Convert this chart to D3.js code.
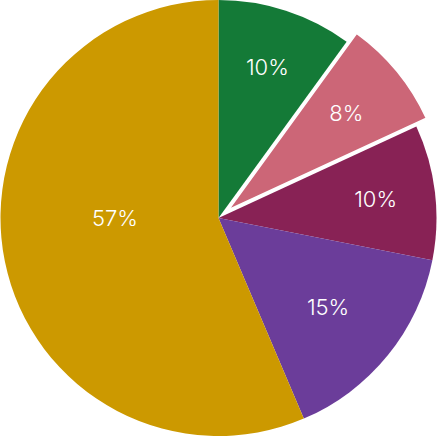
<!DOCTYPE html>
<html>
<head>
<meta charset="utf-8">
<script src="https://cdn.jsdelivr.net/npm/d3@7"></script>
<style>
    body { margin: 0; background: #ffffff; }
    svg { display: block; }
</style>
</head>
<body>
<svg id="lienzo" width="437" height="436"></svg>
<script>
// Datos del grafico
const categorias = ["Verde", "Rosa", "Vino", "Morado", "Dorado"];
const valores = [10, 8.1, 10, 15.5, 56.4];
const etiquetas = ["10%", "8%", "10%", "15%", "57%"];
const colores = ["#147a37", "#cc6677", "#882255", "#6b3d9a", "#cc9900"];

const radio = 218;
const cx = 218.5;
const cy = 218;

const indiceSeparado = 1;   // la porcion rosa sale un poco hacia fuera
const separacion = 13;

const svg = d3.select('#lienzo');

const pie = d3.pie()
    .sort(null)
    .value((d, i) => valores[i]);

const arcos = pie(categorias);

const arco = d3.arc()
    .innerRadius(0)
    .outerRadius(radio);

// desplazamiento de una porcion a lo largo de su angulo medio
function desplazamiento(d, i) {
    if (i !== indiceSeparado) return [0, 0];
    const medio = (d.startAngle + d.endAngle) / 2;
    return [separacion * Math.sin(medio), -separacion * Math.cos(medio)];
}

const grupo = svg.append('g')
    .attr('transform', `translate(${cx},${cy})`);

grupo.selectAll('path')
    .data(arcos)
    .enter()
    .append('path')
    .attr('d', arco)
    .attr('fill', (d, i) => colores[i])
    .attr('stroke', (d, i) => i === indiceSeparado ? '#ffffff' : 'none')
    .attr('stroke-width', 1.5)
    .attr('transform', (d, i) => {
        const [dx, dy] = desplazamiento(d, i);
        return `translate(${dx},${dy})`;
    });

// Posicion de la etiqueta: centro (aprox.) del mayor circulo inscrito en la porcion
function posicionEtiqueta(d) {
    const medio = (d.endAngle - d.startAngle) / 2;
    const s = Math.sin(Math.min(medio, Math.PI / 2));
    const rho = radio * 0.95 / (1 + s);
    let angulo = (d.startAngle + d.endAngle) / 2;
    if (medio > Math.PI / 2) {
        // porcion grande: se elige la direccion mas cercana a la horizontal
        const horizontal = Math.abs(angulo - Math.PI / 2) < Math.abs(angulo - 3 * Math.PI / 2) ? Math.PI / 2 : 3 * Math.PI / 2;
        angulo = Math.max(d.startAngle + Math.PI / 2, Math.min(d.endAngle - Math.PI / 2, horizontal));
    }
    return [rho * Math.sin(angulo), -rho * Math.cos(angulo)];
}

grupo.selectAll('text')
    .data(arcos)
    .enter()
    .append('text')
    .attr('x', d => posicionEtiqueta(d)[0])
    .attr('y', d => posicionEtiqueta(d)[1])
    .attr('dy', '0.36em')
    .attr('text-anchor', 'middle')
    .attr('font-family', 'Inter, sans-serif')
    .attr('font-weight', 300)
    .attr('font-size', '22px')
    .attr('fill', '#ffffff')
    .text((d, i) => etiquetas[i]);
</script>
</body>
</html>
